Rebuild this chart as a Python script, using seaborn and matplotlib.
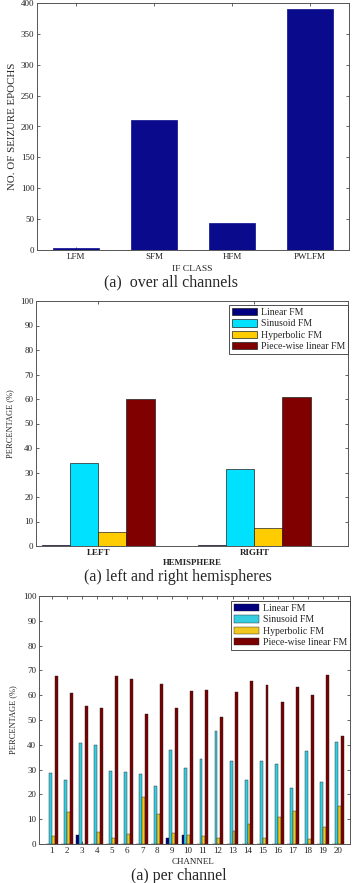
import pandas as pd
import matplotlib
matplotlib.use("Agg")
import matplotlib.pyplot as plt
import seaborn as sns

# panel 1: counts over all channels
if_classes = ["LFM", "SFM", "HFM", "PWLFM"]
epoch_counts = [3, 211, 43, 391]

# panel 2: hemispheres
hemispheres = ["LEFT", "RIGHT"]
fm_types = ["Linear FM", "Sinusoid FM", "Hyperbolic FM", "Piece-wise linear FM"]
hemi_linear = [0.3, 0.6]
hemi_sinus = [33.7, 31.3]
hemi_hyper = [5.8, 7.2]
hemi_pwl = [59.9, 61.0]

# panel 3: per channel
channels = [str(i) for i in range(1, 21)]
ch_linear = [0, 0, 3.5, 0, 0, 0, 0, 0, 2.3, 3.7, 0, 0, 0, 0, 0, 0, 0, 0.2, 0, 0]
ch_sinus = [28.5, 26.0, 40.7, 39.9, 29.6, 29.1, 28.4, 23.4, 38.1, 30.6,
            34.4, 45.6, 33.3, 25.9, 33.3, 32.1, 22.6, 37.7, 25.0, 41.0]
ch_hyper = [3.4, 13.0, 0, 4.9, 2.6, 3.9, 18.9, 11.9, 4.6, 3.8,
            3.4, 2.6, 5.4, 7.9, 2.5, 10.8, 13.5, 2.1, 7.0, 15.3]
ch_pwl = [67.8, 60.9, 55.5, 54.9, 67.6, 66.7, 52.3, 64.7, 54.7, 61.5,
          62.0, 51.4, 61.1, 65.9, 64.1, 57.1, 63.5, 60.0, 68.1, 43.5]

sns.set_style("ticks")
plt.rcParams['font.family'] = ['Liberation Serif', 'DejaVu Serif']

W, H = 358, 883
fig = plt.figure(figsize=(W / 100, H / 100), dpi=100)


def px_axes(left, top, right, bottom):
    return fig.add_axes([left / W, 1 - bottom / H, (right - left) / W, (bottom - top) / H])


def style_axes(ax):
    ax.tick_params(direction='in', top=True, right=True, length=2.5, width=0.5,
                   labelsize=6.5, pad=2, colors='#222222')
    for s in ax.spines.values():
        s.set_linewidth(0.7)
        s.set_color('#555555')
    ax.set_xlabel("")
    ax.set_ylabel("")


def long_table(cats, cat_name, series):
    rows = []
    for name, vals in zip(fm_types, series):
        for c, v in zip(cats, vals):
            rows.append({cat_name: c, "type": name, "value": v})
    return pd.DataFrame(rows)


def add_legend(ax, gap_frac):
    h, l = ax.get_legend_handles_labels()
    leg = ax.legend(h, l, loc='upper right', bbox_to_anchor=(1.0, 1 - gap_frac), borderaxespad=0,
                    fontsize=7, frameon=True, fancybox=False, edgecolor='#333333', framealpha=1,
                    handlelength=2.6, handleheight=0.75, labelspacing=0.25, borderpad=0.3,
                    handletextpad=0.35)
    leg.get_frame().set_linewidth(0.6)


# ---- panel 1
ax1 = px_axes(37, 3, 349, 250)
df1 = pd.DataFrame({"cls": if_classes, "count": epoch_counts})
sns.barplot(data=df1, x="cls", y="count", color="#0A0A8C", width=0.6,
            saturation=1, edgecolor="#0A0A8C", linewidth=0.5, ax=ax1)
ax1.set_ylim(0, 400)
ax1.set_xlim(-0.5, 3.5)
ax1.set_yticks(range(0, 401, 50))
style_axes(ax1)
ax1.set_ylabel("NO. OF SEIZURE EPOCHS", fontsize=7.8, labelpad=3)
fig.text(192 / W, 1 - 269 / H, "IF CLASS", fontsize=6.8, ha='center', va='center')
fig.text(171 / W, 1 - 282 / H, "(a)  over all channels", fontsize=11.5, ha='center', va='center')

pal2 = ["#000080", "#00E0FF", "#FFCC00", "#800000"]
pal3 = ["#00007F", "#35CDE0", "#F0C820", "#7A0000"]

# ---- panel 2
ax2 = px_axes(36, 301, 348, 546)
df2 = long_table(hemispheres, "hemi", [hemi_linear, hemi_sinus, hemi_hyper, hemi_pwl])
sns.barplot(data=df2, x="hemi", y="value", hue="type", palette=pal2, width=0.72,
            saturation=1, edgecolor="#222222", linewidth=0.5, ax=ax2)
ax2.set_ylim(0, 100)
ax2.set_xlim(-0.4, 1.6)
ax2.set_yticks(range(0, 101, 10))
style_axes(ax2)
for t in ax2.get_xticklabels():
    t.set_fontweight('bold')
ax2.set_ylabel("PERCENTAGE (%)", fontsize=6, labelpad=4)
add_legend(ax2, 4 / 245)
fig.text(192 / W, 1 - 563 / H, "HEMISPHERE", fontsize=6.3, fontweight='bold', ha='center', va='center')
fig.text(178 / W, 1 - 577 / H, "(a) left and right hemispheres", fontsize=11.5, ha='center', va='center')

# ---- panel 3
ax3 = px_axes(39, 596, 350, 844)
df3 = long_table(channels, "ch", [ch_linear, ch_sinus, ch_hyper, ch_pwl])
sns.barplot(data=df3, x="ch", y="value", hue="type", palette=pal3, width=0.77,
            saturation=1, edgecolor="#222222", linewidth=0.3, ax=ax3)
ax3.set_ylim(0, 100)
ax3.set_xlim(-0.85, 19.8)
ax3.set_yticks(range(0, 101, 10))
style_axes(ax3)
ax3.set_ylabel("PERCENTAGE (%)", fontsize=6, labelpad=4)
add_legend(ax3, 5 / 248)
fig.text(193 / W, 1 - 862 / H, "CHANNEL", fontsize=6.5, ha='center', va='center')
fig.text(179 / W, 1 - 876 / H, "(a) per channel", fontsize=11.5, ha='center', va='center')

fig.savefig("out.png", dpi=100, facecolor='white')
